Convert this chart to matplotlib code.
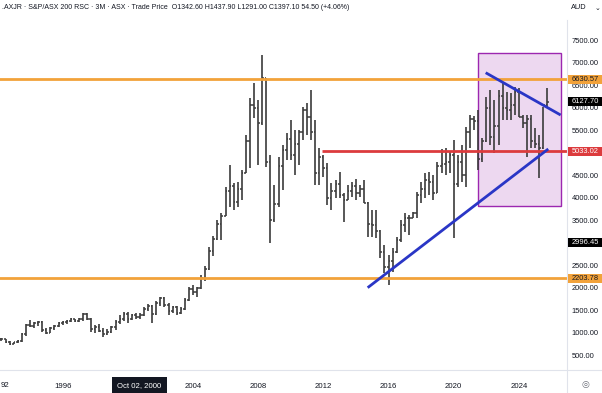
import numpy as np
import pandas as pd
import matplotlib
matplotlib.use("Agg")
import matplotlib.pyplot as plt
from matplotlib.patches import Rectangle
from matplotlib.lines import Line2D
import matplotlib.transforms as mtransforms

plt.rcParams['font.family'] = ['Liberation Sans', 'DejaVu Sans']

# ---------------- data (quarterly OHLC, 1992Q1 .. 2025Q4) ----------------
quarters = pd.period_range("1992Q1", "2025Q4", freq="Q")
opens = [880, 850, 845, 790, 745, 785, 815, 960, 1170, 1150, 1210, 1230, 1060, 1000, 1090, 1140,
         1210, 1225, 1260, 1290, 1250, 1300, 1410, 1300, 1070, 1130, 1040, 960, 1010, 1120, 1240, 1310,
         1420, 1300, 1380, 1342.6, 1397.1, 1530, 1600, 1420, 1660, 1760, 1620, 1470, 1560, 1440, 1520, 1720,
         1960, 1900, 1990, 2210, 2420, 2820, 3080, 3420, 3600, 4150, 4250, 3900, 4200, 4550, 5250, 6050,
         6000, 5650, 6650, 4800, 3500, 3850, 4700, 5050, 5300, 4950, 5200, 5450, 5950, 5800, 5450, 4550,
         4900, 4650, 4000, 4150, 4300, 4050, 3950, 4150, 4250, 4100, 4200, 3880, 3420, 3400, 3250, 2780,
         2450, 2600, 2800, 3050, 3400, 3550, 3550, 3650, 4050, 4200, 4400, 4350, 4100, 4700, 4750, 4800,
         4950, 4300, 4800, 4500, 5450, 5750, 5700, 4850, 5250, 6000, 5350, 5600, 6250, 6000, 5950, 6050,
         6350, 5800, 5650, 5750, 5250, 5200, 5100, 6050]
highs = [900, 880, 860, 810, 800, 830, 990, 1200, 1285, 1240, 1265, 1245, 1100, 1130, 1170, 1240,
         1250, 1285, 1315, 1300, 1320, 1430, 1430, 1320, 1170, 1190, 1090, 1080, 1150, 1280, 1390, 1460,
         1450, 1420, 1440, 1437.9, 1570, 1640, 1620, 1690, 1800, 1790, 1650, 1600, 1600, 1560, 1760, 2020,
         2060, 2010, 2280, 2480, 2900, 3150, 3500, 3650, 4230, 4720, 4320, 4350, 4610, 5390, 6210, 6540,
         6170, 7170, 6660, 4944, 4278, 4907, 5167, 5426, 5722, 5500, 5500, 6019, 6093, 6389, 5722, 5093,
         4944, 4759, 4315, 4389, 4574, 4093, 4278, 4352, 4404, 4278, 4389, 3907, 3722, 3722, 3278, 2944,
         2722, 2870, 3130, 3500, 3648, 3611, 3685, 4130, 4352, 4537, 4574, 4500, 4796, 5080, 5093, 5019,
         5278, 4944, 5167, 5574, 5833, 5811, 5944, 5315, 6241, 6389, 6167, 6389, 6574, 6352, 6315, 6463,
         6426, 5833, 5833, 5833, 5537, 5389, 6019, 6426]
lows = [830, 820, 770, 720, 735, 770, 800, 930, 1120, 1100, 1140, 1020, 960, 985, 1060, 1120,
        1170, 1200, 1240, 1225, 1230, 1260, 1280, 1020, 1000, 1010, 910, 940, 980, 1060, 1190, 1260,
        1220, 1270, 1300, 1291, 1360, 1480, 1210, 1400, 1600, 1560, 1390, 1430, 1400, 1420, 1500, 1690,
        1840, 1800, 1960, 2150, 2380, 2700, 3060, 3050, 3580, 3790, 3720, 3800, 3940, 4540, 4660, 5770,
        4720, 5610, 4685, 2981, 3463, 3800, 4167, 4833, 4833, 4500, 4722, 5278, 5389, 5278, 4278, 4278,
        4463, 3833, 3722, 3981, 3981, 3463, 3944, 4019, 3944, 4019, 3870, 3130, 3130, 3093, 2648, 2315,
        2056, 2352, 2759, 3019, 3241, 3167, 3537, 3537, 3870, 3981, 4056, 3944, 4093, 4550, 4500, 4537,
        3093, 4240, 4352, 4241, 5093, 5500, 4611, 4796, 5241, 5167, 4981, 5167, 5722, 5722, 5722, 5833,
        5796, 5537, 4907, 5093, 5093, 4426, 5080, 6019]
closes = [850, 845, 790, 745, 785, 815, 960, 1170, 1150, 1210, 1230, 1060, 1000, 1090, 1140, 1210,
          1225, 1260, 1290, 1250, 1300, 1410, 1300, 1070, 1130, 1040, 960, 1010, 1120, 1240, 1310, 1420,
          1300, 1380, 1342.6, 1397.1, 1530, 1600, 1420, 1660, 1760, 1620, 1470, 1560, 1440, 1520, 1720, 1960,
          1900, 1990, 2210, 2420, 2820, 3080, 3420, 3600, 4150, 4250, 3900, 4200, 4550, 5250, 6050, 6000,
          5650, 6650, 4800, 3500, 3850, 4700, 5050, 5300, 4950, 5200, 5450, 5950, 5800, 5450, 4550, 4900,
          4650, 4000, 4150, 4300, 4050, 3950, 4150, 4250, 4100, 4200, 3880, 3420, 3400, 3250, 2780, 2450,
          2600, 2800, 3050, 3400, 3550, 3550, 3650, 4050, 4200, 4400, 4350, 4100, 4700, 4750, 4800, 4950,
          4300, 4800, 4500, 5450, 5750, 5700, 4850, 5250, 6000, 5350, 5600, 6250, 6000, 5950, 6050, 6350,
          5800, 5650, 5750, 5250, 5200, 5100, 6050, 6127.7]

# horizontal levels
level_orange = [6630.57, 2203.78]
level_red = 5033.02
red_start = 2011.92
# trend lines (time, price)
trend_up = ([2014.72, 2025.80], [1996, 5078])
trend_down = ([2021.96, 2026.56], [6773, 5833])
# highlight box (time range, price range)
box_t = [2021.50, 2026.56]
box_p = [3811, 7204]

years = [1996, 2004, 2008, 2012, 2016, 2020, 2024]
yticks = [500, 1000, 1500, 2000, 2500, 3500, 4000, 4500, 5500, 6000, 6500, 7000, 7500]
last_price = 6127.70
cross_price = 2996.45
header = (".AXJR · S&P/ASX 200 RSC · 3M · ASX · Trade Price  O1342.60 H1437.90 L1291.00 "
          "C1397.10 54.50 (+4.06%)")

# ---------------- figure ----------------
W, H = 602, 393
fig = plt.figure(figsize=(W / 100, H / 100), dpi=100)
plot_right = 567
plot_bottom = 370
ax = fig.add_axes([0, (H - plot_bottom) / H, plot_right / W, plot_bottom / H])
ax.set_xlim(1992.16, 2026.95)
ax.set_ylim(166.7, 8388.9)
for s in ax.spines.values():
    s.set_visible(False)

t = np.array([q.start_time.year + (q.quarter - 1) * 0.25 for q in quarters])
o, h, l, c = map(np.array, (opens, highs, lows, closes))
bar_col = '#3b3b3b'
w = 0.1
ax.vlines(t, l, h, color=bar_col, lw=1.2, zorder=3)
ax.hlines(o, t - w, t, color=bar_col, lw=1.1, zorder=3)
ax.hlines(c, t, t + w, color=bar_col, lw=1.1, zorder=3)

orange = '#f2a23a'
red = '#dc3b3d'
blue = '#2a36c6'
purple = '#9c27b0'
for lv in level_orange:
    ax.axhline(lv, color=orange, lw=2, zorder=4)
ax.hlines(level_red, red_start, 2026.95, color=red, lw=2, zorder=4)
ax.add_patch(Rectangle((box_t[0], box_p[0]), box_t[1] - box_t[0], box_p[1] - box_p[0],
                       facecolor=purple, alpha=0.18, edgecolor='none', zorder=1))
ax.add_patch(Rectangle((box_t[0], box_p[0]), box_t[1] - box_t[0], box_p[1] - box_p[0],
                       facecolor='none', edgecolor=purple, lw=1, zorder=2))
ax.plot(trend_up[0], trend_up[1], color=blue, lw=2, zorder=5, solid_capstyle='butt')
ax.plot(trend_down[0], trend_down[1], color=blue, lw=2, zorder=5, solid_capstyle='butt')

# x axis labels
ax.set_xticks(years)
ax.set_xticklabels([str(y) for y in years], fontsize=5.6, color='#131722')
ax.tick_params(axis='x', length=0, pad=9)
fig.text(5 / W, (H - 385.5) / H, "92", ha='center', va='center', fontsize=5.6, color='#131722')
# y axis labels on right
ax.yaxis.tick_right()
ax.set_yticks(yticks)
ax.set_yticklabels([f"{v:.2f}" for v in yticks], fontsize=5.4, color='#131722')
ax.tick_params(axis='y', length=0, pad=3.5)

# border lines
fig.add_artist(Line2D([0, 1], [(H - plot_bottom) / H] * 2, color='#e0e3eb', lw=0.8))
fig.add_artist(Line2D([plot_right / W] * 2, [0, (H - 20) / H], color='#e0e3eb', lw=0.8))

# price labels on the right axis
bt = mtransforms.blended_transform_factory(fig.transFigure, ax.transData)
def price_label(val, face, txtcol):
    fig.add_artist(Rectangle((568 / W, val - 100), 1 - 568 / W, 200, transform=bt,
                             facecolor=face, edgecolor='none', zorder=5))
    fig.text(585.5 / W, val, f"{val:.2f}", transform=bt, ha='center', va='center',
             fontsize=5.4, color=txtcol, zorder=6)

price_label(level_orange[0], orange, '#131722')
price_label(last_price, '#000000', 'white')
price_label(level_red, red, 'white')
price_label(cross_price, '#000000', 'white')
price_label(level_orange[1], orange, '#131722')

# crosshair date box
fig.add_artist(Rectangle((112 / W, 0), 55 / W, (H - 377) / H, facecolor='#131722',
                         edgecolor='none', zorder=5))
fig.text(139.5 / W, (H - 385.5) / H, "Oct 02, 2000", ha='center', va='center',
         fontsize=5.6, color='white', zorder=6)

# header
fig.text(2 / W, (H - 7.5) / H, header, ha='left', va='center', fontsize=5.0, color='#131722')
fig.text(571 / W, (H - 7.5) / H, "AUD", ha='left', va='center', fontsize=5.3, color='#131722')
fig.text(598 / W, (H - 8) / H, "⌄", ha='center', va='center', fontsize=5, color='#131722',
         family='DejaVu Sans')
fig.text(585 / W, (H - 385) / H, "◎", ha='center', va='center', fontsize=6.5, color='#6a6d78',
         family='DejaVu Sans')

fig.savefig("out.png", dpi=100)
